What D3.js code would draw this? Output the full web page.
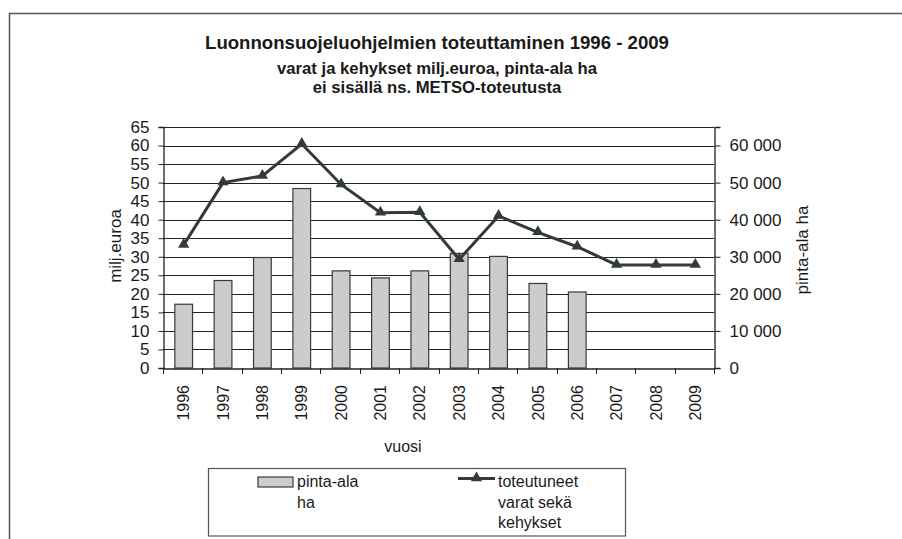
<!DOCTYPE html>
<html>
<head>
<meta charset="utf-8">
<script src="https://cdn.jsdelivr.net/npm/d3@7"></script>
<style>
  html, body { margin: 0; padding: 0; background: #fff; }
  svg { display: block; }
  text { font-family: "Liberation Sans", Arial, sans-serif; fill: #1a1a1a; }
</style>
</head>
<body>
<svg id="chart" width="902" height="539"></svg>
<script>
// ---- data ----
const years = ["1996","1997","1998","1999","2000","2001","2002","2003","2004","2005","2006","2007","2008","2009"];
const areaHa = [17200, 23600, 29800, 48400, 26200, 24300, 26200, 30900, 30100, 22800, 20500, null, null, null];
const fundsMeur = [33.2, 50.0, 51.8, 60.4, 49.5, 41.9, 42.0, 29.3, 41.0, 36.6, 32.7, 27.8, 27.8, 27.8];
const leftTicks = [0,5,10,15,20,25,30,35,40,45,50,55,60,65];
const rightTicks = [0,10000,20000,30000,40000,50000,60000];
const titleLines = ["Luonnonsuojeluohjelmien toteuttaminen 1996 - 2009",
                    "varat ja kehykset milj.euroa, pinta-ala ha",
                    "ei sisällä ns. METSO-toteutusta"];
const xTitle = "vuosi";
const yLeftTitle = "milj.euroa";
const yRightTitle = "pinta-ala ha";
const legendBar = ["pinta-ala", "ha"];
const legendLine = ["toteutuneet", "varat sekä", "kehykset"];

// ---- layout ----
const svg = d3.select("#chart");
const L = 163, R = 714, T = 127, B = 368;
const lineColor = "#323b38";

// outer frame
svg.append("rect").attr("x", 9.5).attr("y", 13.5).attr("width", 1000).attr("height", 1000)
  .attr("fill", "none").attr("stroke", "#555").attr("stroke-width", 1.5);

const x = d3.scaleBand().domain(years).range([L, R]).padding(0);
const yL = d3.scaleLinear().domain([0, 65]).range([B, T]);
const yR = d3.scaleLinear().domain([0, 65000]).range([B, T]);

// gridlines
svg.append("g").selectAll("line").data(leftTicks.filter(d => d > 0)).join("line")
  .attr("x1", L).attr("x2", R)
  .attr("y1", d => Math.round(yL(d)) + 0.5).attr("y2", d => Math.round(yL(d)) + 0.5)
  .attr("stroke", "#222").attr("stroke-width", 1);

// bars
const bw = x.bandwidth() * 0.45;
svg.append("g").selectAll("rect").data(years.map((y, i) => ({y, v: areaHa[i]})).filter(d => d.v != null))
  .join("rect")
  .attr("x", d => x(d.y) + x.bandwidth() / 2 - bw / 2 + 1)
  .attr("y", d => yR(d.v))
  .attr("width", bw)
  .attr("height", d => B - yR(d.v))
  .attr("fill", "#cccccc").attr("stroke", "#3a3a3a").attr("stroke-width", 1.2);

// left axis
const axL = svg.append("g").attr("transform", `translate(${L + 0.5},0)`)
  .call(d3.axisLeft(yL).tickValues(leftTicks).tickSize(5).tickPadding(9).tickFormat(d3.format("d")));
axL.select(".domain").attr("stroke", "#222").attr("stroke-width", 1.3);
axL.selectAll(".tick line").attr("stroke", "#222");
axL.selectAll(".tick text").attr("font-size", 17).attr("fill", "#1a1a1a")
  .attr("font-family", '"Liberation Sans", Arial, sans-serif');

// right axis
const fmtSpace = d => d3.format(",")(d).replace(/,/g, " ");
const axR = svg.append("g").attr("transform", `translate(${R + 0.5},0)`)
  .call(d3.axisRight(yR).tickValues(rightTicks).tickSize(6).tickPadding(9).tickFormat(fmtSpace));
axR.select(".domain").attr("stroke", "#222").attr("stroke-width", 1.3);
axR.selectAll(".tick line").attr("stroke", "#222");
axR.selectAll(".tick text").attr("font-size", 17).attr("fill", "#1a1a1a")
  .attr("font-family", '"Liberation Sans", Arial, sans-serif');

// bottom axis
const axB = svg.append("g").attr("transform", `translate(0,${B + 0.5})`)
  .call(d3.axisBottom(x).tickSize(0).tickFormat(""));
axB.select(".domain").attr("stroke", "#222").attr("stroke-width", 1.3);
// tick marks at band boundaries
svg.append("g").selectAll("line").data(years.slice(1).concat(["end"])).join("line")
  .attr("x1", (d, i) => Math.round(L + x.bandwidth() * (i + 1)) + 0.5)
  .attr("x2", (d, i) => Math.round(L + x.bandwidth() * (i + 1)) + 0.5)
  .attr("y1", B).attr("y2", B + 6).attr("stroke", "#222");
svg.append("line").attr("x1", L + 0.5).attr("x2", L + 0.5).attr("y1", B).attr("y2", B + 6).attr("stroke", "#222");

// year labels
svg.append("g").selectAll("text").data(years).join("text")
  .attr("transform", d => `translate(${x(d) + x.bandwidth() / 2 + 1},385) rotate(-90)`)
  .attr("text-anchor", "end").attr("dy", "0.35em").attr("font-size", 16)
  .text(d => d);

// line series
const pts = years.map((y, i) => ({y, v: fundsMeur[i]}));
svg.append("path").datum(pts)
  .attr("d", d3.line().x(d => x(d.y) + x.bandwidth() / 2 + 1).y(d => yL(d.v)))
  .attr("fill", "none").attr("stroke", lineColor).attr("stroke-width", 3).attr("stroke-linejoin", "miter");
const tri = d3.symbol().type(d3.symbolTriangle).size(55);
svg.append("g").selectAll("path").data(pts).join("path")
  .attr("transform", d => `translate(${x(d.y) + x.bandwidth() / 2 + 1},${yL(d.v) - 0.5})`)
  .attr("d", tri).attr("fill", lineColor);

// titles
const tSizes = [18.6, 16.7, 16.7], tY = [48.5, 73.5, 93];
titleLines.forEach((t, i) => {
  svg.append("text").attr("x", 437).attr("y", tY[i]).attr("text-anchor", "middle")
    .attr("font-weight", "bold").attr("font-size", tSizes[i]).text(t);
});

// axis titles
svg.append("text").attr("transform", "translate(121,246) rotate(-90)")
  .attr("text-anchor", "middle").attr("font-size", 17).text(yLeftTitle);
svg.append("text").attr("transform", "translate(808,250) rotate(-90)")
  .attr("text-anchor", "middle").attr("font-size", 17).text(yRightTitle);
svg.append("text").attr("x", 403).attr("y", 452).attr("text-anchor", "middle")
  .attr("font-size", 16).text(xTitle);

// legend
svg.append("rect").attr("x", 208.5).attr("y", 468.5).attr("width", 417).attr("height", 67.5)
  .attr("fill", "#fff").attr("stroke", "#555").attr("stroke-width", 1.2);
svg.append("rect").attr("x", 258).attr("y", 477).attr("width", 35).attr("height", 10)
  .attr("fill", "#cccccc").attr("stroke", "#3a3a3a").attr("stroke-width", 1.2);
legendBar.forEach((t, i) => svg.append("text").attr("x", 297).attr("y", 487 + i * 20.5)
  .attr("font-size", 16).text(t));
svg.append("line").attr("x1", 458).attr("x2", 495).attr("y1", 478.5).attr("y2", 478.5)
  .attr("stroke", lineColor).attr("stroke-width", 3);
svg.append("path").attr("transform", "translate(476.5,478)").attr("d", tri).attr("fill", lineColor);
legendLine.forEach((t, i) => svg.append("text").attr("x", 498).attr("y", 487 + i * 20.5)
  .attr("font-size", 16).text(t));
</script>
</body>
</html>
